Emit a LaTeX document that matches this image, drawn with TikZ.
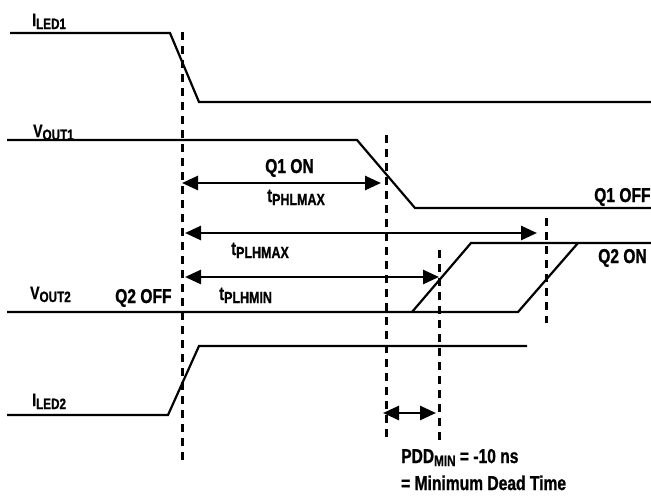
\documentclass[tikz,border=0pt]{standalone}
\usepackage{fontspec}
\setmainfont{Liberation Sans}[FakeStretch=0.78, BoldFeatures={FakeBold=1}]
\usetikzlibrary{arrows.meta}
\newcommand\sigl[2]{{\fontsize{18}{18}\selectfont #1}{\fontsize{15}{15}\selectfont\raisebox{-3pt}{#2}}}
\newcommand\tlab[1]{{\fontsize{19}{19}\selectfont t}{\fontsize{16}{16}\selectfont\raisebox{-3pt}{#1}}}
\begin{document}
\begin{tikzpicture}[x=1pt,y=-1pt,
  sig/.style={line width=2.2pt, line join=miter},
  vdash/.style={line width=3pt, dash pattern=on 8pt off 6pt},
  dblarr/.style={line width=2.6pt,{Triangle[length=16pt,width=14pt]}-{Triangle[length=16pt,width=14pt]}},
  lbl/.style={anchor=base west, inner sep=0pt, font=\bfseries},
  big/.style={lbl, font={\bfseries\fontsize{20}{20}\selectfont}}]
\useasboundingbox (0,0) rectangle (651,496);
% signals
\draw[sig] (10,33) -- (170,33) -- (199,102) -- (651,102);
\draw[sig] (7,140) -- (357,140) -- (415,208) -- (651,208);
\draw[sig] (7,312) -- (518,312) -- (578,243);
\draw[sig] (412,312) -- (471,243) -- (651,243);
\draw[sig] (7,415) -- (168,415) -- (199,346) -- (527,346);
% dashed markers
\coordinate (d1t) at (182,32);  \coordinate (d1b) at (182,460);
\coordinate (d2t) at (386,135); \coordinate (d2b) at (386,440);
\coordinate (d3t) at (439,250); \coordinate (d3b) at (439,440);
\coordinate (d4t) at (546,218); \coordinate (d4b) at (546,323);
\draw[vdash] (d1t) -- (d1b);
\draw[vdash] (d2t) -- (d2b);
\draw[vdash] (d3t) -- (d3b);
\draw[vdash] (d4t) -- (d4b);
% arrows
\coordinate (a1l) at (182,183); \coordinate (a1r) at (381,183);
\coordinate (a2l) at (185,233); \coordinate (a2r) at (537,233);
\coordinate (a3l) at (185,277); \coordinate (a3r) at (439,277);
\coordinate (a4l) at (383,413); \coordinate (a4r) at (436,413);
\draw[dblarr] (a1l) -- (a1r);
\draw[dblarr] (a2l) -- (a2r);
\draw[dblarr] (a3l) -- (a3r);
\draw[dblarr] (a4l) -- (a4r);
% labels
\node[lbl] (iled1) at (32,26) {\sigl{I}{LED1}};
\node[lbl] (vout1) at (33,137) {\sigl{V}{OUT1}};
\node[lbl] (vout2) at (30,299) {\sigl{V}{OUT2}};
\node[lbl] (iled2) at (32,406) {\sigl{I}{LED2}};
\node[big] (q2off) at (115,303) {Q2 OFF};
\node[big] (q1on) at (265,173) {Q1 ON};
\node[big] (q1off) at (594,202) {Q1 OFF};
\node[big] (q2on) at (598,263) {Q2 ON};
\node[lbl] (tphl) at (267,202) {\tlab{PHLMAX}};
\node[lbl] (tplhmax) at (231,255) {\tlab{PLHMAX}};
\node[lbl] (tplhmin) at (219,300) {\tlab{PLHMIN}};
\node[big] (pdd) at (401,463) {PDD{\fontsize{15}{15}\selectfont\raisebox{-3pt}{MIN}} = -10 ns};
\node[big] (mdt) at (401,490) {= Minimum Dead Time};
\end{tikzpicture}
\end{document}
